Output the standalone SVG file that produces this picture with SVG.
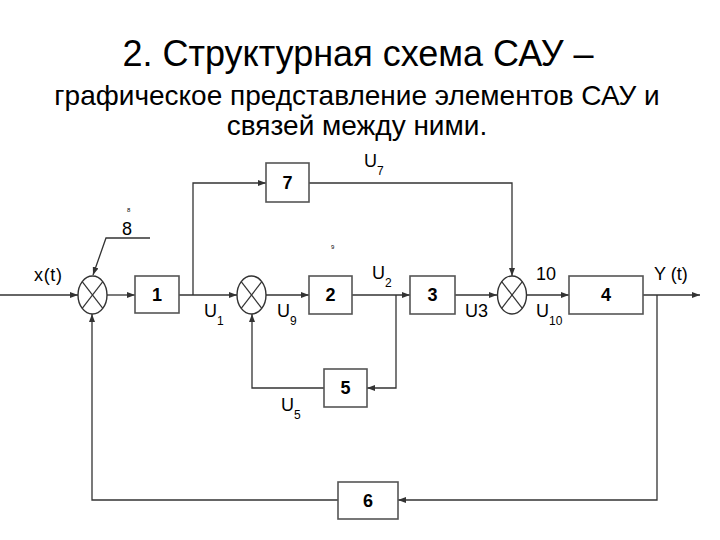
<svg xmlns="http://www.w3.org/2000/svg" width="720" height="540" viewBox="0 0 720 540">
<style>
text{font-family:"Liberation Sans",Arial,sans-serif;fill:#000}
.t1{font-size:36px}
.t2{font-size:28px}
.blk rect{fill:#fff;stroke:#555;stroke-width:1.6}
.blk text{font-size:18px;font-weight:bold;text-anchor:middle}
.sum ellipse{fill:#fff;stroke:#333;stroke-width:1.4}
.sum line{stroke:#333;stroke-width:1.2}
.w{fill:none;stroke:#333;stroke-width:1.3}
.lb{font-size:18px}
.sb{font-size:12px}
.tiny{font-size:6px}
</style>
<defs>
<marker id="ar" viewBox="0 0 8 6" refX="8" refY="3" markerWidth="8" markerHeight="6" markerUnits="userSpaceOnUse" orient="auto">
<path d="M0,0 L8,3 L0,6 z" fill="#333"/>
</marker>
</defs>
<g id="title">
<text class="t1" x="358" y="66" text-anchor="middle">2. Структурная схема САУ –</text>
<text class="t2" x="357" y="105" text-anchor="middle">графическое представление элементов САУ и</text>
<text class="t2" x="357" y="135" text-anchor="middle">связей между ними.</text>
</g>
<g id="connectors">
<path class="w" d="M0,295 H78" marker-end="url(#ar)"/>
<path class="w" d="M107,295 H135" marker-end="url(#ar)"/>
<path class="w" d="M179,295 H237" marker-end="url(#ar)"/>
<path class="w" d="M193,295 V183 H266" marker-end="url(#ar)"/>
<path class="w" d="M309,183 H512 V276" marker-end="url(#ar)"/>
<path class="w" d="M266,295 H309" marker-end="url(#ar)"/>
<path class="w" d="M352,295 H410" marker-end="url(#ar)"/>
<path class="w" d="M396,295 V388 H367" marker-end="url(#ar)"/>
<path class="w" d="M324,388 H252 V314" marker-end="url(#ar)"/>
<path class="w" d="M455,295 H497" marker-end="url(#ar)"/>
<path class="w" d="M527,295 H569" marker-end="url(#ar)"/>
<path class="w" d="M643,295 H700" marker-end="url(#ar)"/>
<path class="w" d="M657,295 V500 H398" marker-end="url(#ar)"/>
<path class="w" d="M338,500 H92 V314" marker-end="url(#ar)"/>
<path class="w" d="M150,238 H106 L93,275" marker-end="url(#ar)"/>
</g>
<g id="sum1" class="sum">
<ellipse cx="92.5" cy="295" rx="14.5" ry="19"/>
<line x1="82.2" y1="281.6" x2="102.8" y2="308.4"/>
<line x1="82.2" y1="308.4" x2="102.8" y2="281.6"/>
</g>
<g id="sum2" class="sum">
<ellipse cx="251.5" cy="295" rx="14.5" ry="19"/>
<line x1="241.2" y1="281.6" x2="261.8" y2="308.4"/>
<line x1="241.2" y1="308.4" x2="261.8" y2="281.6"/>
</g>
<g id="sum3" class="sum">
<ellipse cx="512" cy="295" rx="14.5" ry="19"/>
<line x1="501.7" y1="281.6" x2="522.3" y2="308.4"/>
<line x1="501.7" y1="308.4" x2="522.3" y2="281.6"/>
</g>
<g id="b1" class="blk"><rect x="135" y="276" width="44" height="37"/><text x="157" y="301">1</text></g>
<g id="b2" class="blk"><rect x="309" y="276" width="43" height="38"/><text x="330.5" y="301">2</text></g>
<g id="b3" class="blk"><rect x="410" y="276" width="45" height="38"/><text x="432.5" y="301">3</text></g>
<g id="b4" class="blk"><rect x="569" y="276" width="74" height="38"/><text x="606" y="301">4</text></g>
<g id="b5" class="blk"><rect x="324" y="369" width="43" height="38"/><text x="345.5" y="394">5</text></g>
<g id="b6" class="blk"><rect x="338" y="482" width="60" height="37"/><text x="368" y="507">6</text></g>
<g id="b7" class="blk"><rect x="266" y="163" width="43" height="39"/><text x="287.5" y="189">7</text></g>
<g id="labels">
<text class="lb" x="34" y="281" textLength="28">x(t)</text>
<text class="tiny" x="127" y="212">8</text>
<text class="lb" x="122" y="235">8</text>
<text class="tiny" x="331" y="249">9</text>
<text class="lb" x="204" y="317">U<tspan class="sb" dy="8">1</tspan></text>
<text class="lb" x="277" y="317">U<tspan class="sb" dy="8">9</tspan></text>
<text class="lb" x="364" y="167">U<tspan class="sb" dy="8">7</tspan></text>
<text class="lb" x="372" y="279">U<tspan class="sb" dy="8">2</tspan></text>
<text class="lb" x="465" y="317">U3</text>
<text class="lb" x="536" y="280">10</text>
<text class="lb" x="536" y="317">U<tspan class="sb" dy="8">10</tspan></text>
<text class="lb" x="654" y="280">Y (t)</text>
<text class="lb" x="281" y="411">U<tspan class="sb" dy="8">5</tspan></text>
</g>
</svg>
